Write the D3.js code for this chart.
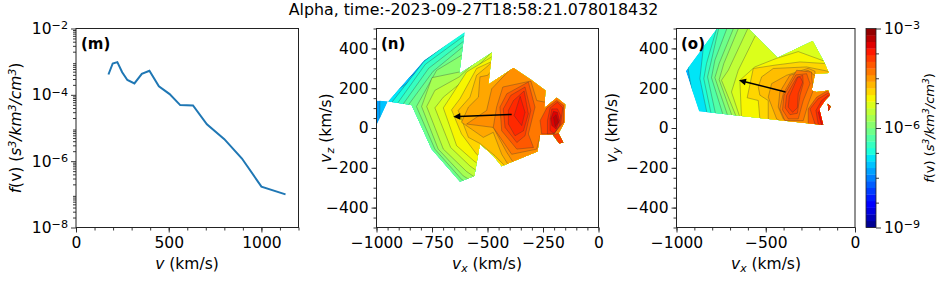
<!DOCTYPE html>
<html lang="en">
	<head>
		<meta charset="utf-8">
		<title>Alpha distribution</title>
		<script type="text/javascript" src="https://cdn.jsdelivr.net/npm/d3@7"></script>
		<style type="text/css">
			html, body { margin: 0; padding: 0; background: #fff; }
			svg { display: block; }
			text { font-family: "DejaVu Sans", sans-serif; fill: #000; }
		</style>
	</head>
	<body>
		<script type="text/javascript">

			//Panel (m): speed distribution
			var speeds = [175, 198, 223, 249, 277, 315, 355, 396, 447, 505, 562, 631, 706, 800, 895, 1000, 1130];
			var fv = [4.1e-4, 8.8e-4, 9.7e-4, 4.8e-4, 2.8e-4, 2.2e-4, 4.3e-4, 5.3e-4, 1.8e-4, 1.05e-4, 4.9e-5, 4.8e-5, 1.3e-5, 4.6e-6, 1.2e-6, 1.7e-7, 1.0e-7];

			//Panel (n): outline in km/s, contour levels (log10 f) and contour rings
			var nPiece = [[-1000, 138], [-950, 133], [-1000, 12]];
			var nOutline = [[-947, 133], [-786, 341], [-603, 481], [-627, 273], [-480, 380], [-496, 218], [-383, 302], [-304, 243], [-239, 189], [-244, 101], [-188, 152], [-150, 118], [-153, 29], [-180, -27], [-158, -73], [-177, -78], [-206, -34], [-263, -35], [-275, -118], [-436, -192], [-474, -140], [-534, -81], [-559, -241], [-624, -270], [-752, -106], [-842, 116]];
			var nBase = -7.4;
			var nLevels = [-7.2, -7.0, -6.8, -6.6, -6.4, -6.2, -6.0, -5.8, -5.6, -5.4, -5.2, -5.0, -4.85, -4.7, -4.55, -4.4, -4.2, -4.05, -3.9, -3.8, -4.1, -3.95, -3.8, -3.6, -3.45, -4.0];
			var nRings = [
				[[-985, 160], [-985, -20], [-100, -600], [-100, 800]],
				[[-948, 160], [-948, -20], [-100, -600], [-100, 800]],
				[[-603, 490], [-786, 335], [-930, 130], [-900, -100], [-100, -600], [-100, 800]],
				[[-603, 465], [-780, 320], [-905, 125], [-900, -100], [-100, -600], [-100, 800]],
				[[-603, 440], [-765, 300], [-880, 120], [-880, -100], [-100, -600], [-100, 800]],
				[[-603, 415], [-745, 285], [-855, 118], [-850, -100], [-700, -300], [-100, -600], [-100, 800]],
				[[-603, 375], [-729, 290], [-820, 108], [-737, -106], [-617, -258], [-560, -300], [-100, -600], [-100, 800]],
				[[-624, 282], [-750, 253], [-797, 108], [-722, -106], [-609, -241], [-550, -280], [-100, -600], [-100, 800]],
				[[-627, 257], [-737, 189], [-774, 108], [-699, -106], [-594, -219], [-540, -260], [-100, -600], [-100, 800]],
				[[-624, 223], [-699, 155], [-737, 101], [-666, -98], [-579, -191], [-530, -230], [-100, -600], [-100, 800]],
				[[-480, 358], [-594, 282], [-662, 164], [-699, 101], [-639, -89], [-561, -166], [-530, -190], [-100, -600], [-100, 800]],
				[[-483, 333], [-549, 299], [-624, 147], [-662, 91], [-617, -30], [-549, -132], [-520, -160], [-100, -600], [-100, 800]],
				[[-496, 314], [-549, 265], [-579, 155], [-632, 88], [-586, -47], [-534, -78], [-466, -140], [-413, -200], [-100, -600], [-100, 800]],
				[[-499, 265], [-534, 257], [-541, 155], [-586, 105], [-617, 29], [-519, -47], [-474, -22], [-436, -132], [-398, -200], [-100, -600], [-100, 800]],
				[[-376, 320], [-481, 197], [-504, 88], [-594, 20], [-474, 3], [-413, -123], [-368, -200], [-100, -600], [-100, 800]],
				[[-241, 130], [-278, 138], [-305, 236], [-431, 206], [-459, 105], [-474, 3], [-391, -132], [-278, -106], [-263, -39], [-200, -300], [-100, -600], [-100, 800]],
				[[-413, 172], [-316, 231], [-286, 105], [-316, -30], [-293, -98], [-368, -106], [-436, -14], [-444, 105]],
				[[-395, 164], [-331, 206], [-305, 88], [-331, -39], [-368, -73], [-421, 3], [-429, 96]],
				[[-383, 138], [-335, 186], [-316, 71], [-338, -14], [-376, -39], [-406, 20], [-406, 88]],
				[[-353, 159], [-331, 79], [-346, 12], [-380, 62]],
				[[-263, 37], [-233, 101], [-188, 138], [-158, 113], [-158, 29], [-203, -30], [-256, -30]],
				[[-230, 37], [-218, 101], [-185, 130], [-161, 101], [-170, 20], [-198, -27], [-230, -30]],
				[[-218, 46], [-210, 96], [-185, 96], [-170, 62], [-176, 12], [-200, -27], [-218, -14]],
				[[-215, 46], [-203, 84], [-185, 79], [-176, 37], [-191, -5], [-210, 12]],
				[[-203, 54], [-191, 67], [-180, 29], [-195, 7]],
				[[-180, -27], [-158, -73], [-177, -78], [-206, -34]]
			];
			var nArrow = [[-391, 68], [-654, 57]];

			//Panel (o)
			var oPiece = [[-153, 122], [-135, 108], [-148, 84]];
			var oOutline = [[-948, 287], [-772, 501], [-598, 501], [-434, 353], [-237, 437], [-174, 333], [-146, 277], [-224, 273], [-243, 189], [-215, 181], [-150, 189], [-140, 164], [-168, 138], [-200, 96], [-178, 15], [-873, 84]];
			var oBase = -7.3;
			var oLevels = [-7.0, -6.8, -6.6, -6.4, -6.2, -6.0, -5.8, -5.6, -5.4, -5.2, -5.0, -4.85, -4.7, -4.55, -4.4, -4.25, -4.1, -4.0, -4.2, -4.05, -3.9, -3.7, -3.9];
			var oRings = [
				[[-940, 330], [-930, 270], [-890, 62], [0, -200], [0, 800], [-1000, 800]],
				[[-850, 400], [-869, 248], [-826, 62], [0, -200], [0, 800], [-1000, 800]],
				[[-772, 509], [-832, 324], [-847, 248], [-804, 62], [0, -200], [0, 800], [-1000, 800]],
				[[-757, 527], [-804, 341], [-826, 257], [-779, 62], [0, -200], [0, 800], [-1000, 800]],
				[[-710, 518], [-785, 341], [-804, 253], [-738, 62], [0, -200], [0, 800], [-1000, 800]],
				[[-673, 518], [-761, 324], [-785, 253], [-710, 54], [0, -200], [0, 800], [-1000, 800]],
				[[-645, 518], [-735, 324], [-761, 243], [-686, 54], [0, -200], [0, 800], [-1000, 800]],
				[[-590, 520], [-710, 290], [-748, 240], [-664, 54], [0, -200], [0, 800], [-1000, 800]],
				[[-500, 520], [-561, 459], [-654, 290], [-692, 181], [-645, 54], [0, -200], [0, 800], [-1000, 800]],
				[[-178, 338], [-318, 384], [-440, 350], [-561, 307], [-645, 240], [-636, 54], [0, -200], [0, 800]],
				[[-168, 324], [-308, 332], [-448, 316], [-570, 299], [-604, 152], [-542, 138], [-533, 46], [0, -200], [0, 800]],
				[[-150, 285], [-271, 307], [-458, 299], [-523, 257], [-542, 206], [-533, 165], [-486, 138], [-486, 46], [0, -200], [0, 800]],
				[[-224, 262], [-224, 285], [-262, 300], [-383, 265], [-467, 223], [-486, 155], [-439, 46], [0, -200], [0, 262]],
				[[-224, 262], [-262, 290], [-365, 265], [-421, 181], [-430, 105], [-402, 46], [0, -200], [0, 262]],
				[[-243, 281], [-327, 290], [-402, 172], [-421, 96], [-393, 37], [-290, 37], [-262, 122], [-234, 189], [-243, 257]],
				[[-271, 273], [-331, 267], [-398, 164], [-406, 91], [-374, 46], [-318, 46], [-290, 138], [-252, 223]],
				[[-293, 265], [-327, 253], [-383, 164], [-391, 101], [-364, 67], [-323, 74], [-308, 164], [-290, 223]],
				[[-305, 253], [-320, 257], [-368, 159], [-374, 105], [-350, 79], [-323, 101], [-318, 172], [-293, 231]],
				[[-262, 10], [-262, 96], [-215, 155], [-150, 189], [-131, 164], [-168, -3]],
				[[-224, 20], [-252, 96], [-206, 147], [-150, 176], [-131, 160], [-168, -3]],
				[[-206, 20], [-219, 88], [-187, 138], [-150, 164], [-131, 138], [-168, -3]],
				[[-187, 12], [-206, 79], [-187, 96], [-174, 37]],
				[[-153, 122], [-135, 108], [-148, 84]]
			];
			var oArrow = [[-389, 181], [-650, 240]];

			//Colour bar and tick labels
			var barDecades = [-3, -6, -9];
			var barMinor = [-3.75, -4.5, -5.25, -6.75, -7.5, -8.25];
			var barBands = d3.range(30);
			var fTicks = [-2, -4, -6, -8];
			var fSubs = [2, 3, 4, 5, 6, 7, 8, 9];
			var mXTicks = [0, 500, 1000];
			var nXTicks = [-1000, -750, -500, -250, 0];
			var oXTicks = [-1000, -500, 0];
			var vYTicks = [-400, -200, 0, 200, 400];

			var w = 947;
			var h = 284;
			var plotTop = 28.5;
			var plotBottom = 227.5;

			//jet colour map, same breakpoints as matplotlib
			var jetR = d3.scaleLinear().domain([0, 0.35, 0.66, 0.89, 1]).range([0, 0, 1, 1, 0.5]);
			var jetG = d3.scaleLinear().domain([0, 0.125, 0.375, 0.64, 0.91, 1]).range([0, 0, 1, 1, 0, 0]);
			var jetB = d3.scaleLinear().domain([0, 0.11, 0.34, 0.65, 1]).range([0.5, 1, 1, 0, 0]);
			var toT = d3.scaleLinear().domain([-9, -3]).range([0, 1]);
			function jet(level) {
				var t = toT(level + 0.1);
				return "rgb(" + Math.round(jetR(t) * 255) + "," + Math.round(jetG(t) * 255) + "," + Math.round(jetB(t) * 255) + ")";
			}

			var svg = d3.select("body").append("svg").attr("width", w).attr("height", h);

			//10 with a superscript exponent as real text
			function powerLabel(sel, exponent) {
				sel.text("");
				sel.append("tspan").text("10");
				sel.append("tspan").attr("dy", "-0.42em").attr("font-size", "0.72em").text(String(exponent).replace("-", "\u2212"));
			}

			//label with italic parts and superscripts
			function fLabel(sel) {
				var parts = [["f", 1, 0], ["(v) (", 0, 0], ["s", 1, 0], ["3", 1, 1], ["/km", 1, 0], ["3", 1, 1], ["/cm", 1, 0], ["3", 1, 1], [")", 0, 0]];
				var up = false;
				parts.forEach(function(p) {
					var t = sel.append("tspan").text(p[0]).attr("font-style", p[1] ? "italic" : "normal");
					if (p[2]) { t.attr("font-size", "0.7em").attr("dy", "-0.5em"); up = true; }
					else if (up) { t.attr("dy", "0.35em"); up = false; }
				});
			}

			function axesFrame(g, x, y, xTicks, xMinor, yTicks, yMinor, fmtY) {
				var xAxis = d3.axisBottom(x).tickValues(xTicks).tickSize(5).tickPadding(4).tickFormat(function(d) { return String(d).replace("-", "\u2212"); });
				var xMin = d3.axisBottom(x).tickValues(xMinor).tickSize(3).tickFormat("");
				var yAxis = d3.axisLeft(y).tickValues(yTicks).tickSize(5).tickPadding(3);
				var yMin = d3.axisLeft(y).tickValues(yMinor).tickSize(3).tickFormat("");
				yAxis.tickFormat(function(d) { return String(d).replace("-", "\u2212"); });

				var xg = g.append("g").attr("transform", "translate(0," + plotBottom + ")");
				xg.append("g").call(xMin);
				xg.append("g").call(xAxis);
				var yg = g.append("g").attr("transform", "translate(" + x.range()[0] + ",0)");
				yg.append("g").call(yMin);
				var yMain = yg.append("g").call(yAxis);
				if (fmtY) { yMain.selectAll(".tick text").each(function(d) { powerLabel(d3.select(this), d3.format("d")(fmtY(d))); }); }

				g.selectAll(".domain").remove();
				g.selectAll(".tick line").attr("stroke", "#222").attr("stroke-width", 0.9);
				g.selectAll(".tick text").attr("font-size", 15.5).attr("font-family", "DejaVu Sans").attr("fill", "#000");

				g.append("rect")
					.attr("x", x.range()[0]).attr("y", plotTop)
					.attr("width", x.range()[1] - x.range()[0]).attr("height", plotBottom - plotTop)
					.attr("fill", "none").attr("stroke", "#222").attr("stroke-width", 1);
			}

			function panelLabel(x, s) {
				svg.append("text").attr("x", x).attr("y", 48.5).attr("font-size", 15).attr("font-weight", "bold").text(s);
			}

			function xTitle(cx, sub) {
				var t = svg.append("text").attr("x", cx).attr("y", 269).attr("text-anchor", "middle").attr("font-size", 15.5);
				t.append("tspan").attr("font-style", "italic").text("v");
				if (sub) {
					t.append("tspan").attr("font-style", "italic").attr("font-size", "0.7em").attr("dy", "0.25em").text(sub);
					t.append("tspan").attr("dy", "-0.18em").text(" (km/s)");
				} else {
					t.append("tspan").text(" (km/s)");
				}
			}

			function yTitle(px, sub) {
				var t = svg.append("text").attr("transform", "translate(" + px + "," + ((plotTop + plotBottom) / 2) + ") rotate(-90)")
					.attr("text-anchor", "middle").attr("font-size", 15.5);
				t.append("tspan").attr("font-style", "italic").text("v");
				t.append("tspan").attr("font-style", "italic").attr("font-size", "0.7em").attr("dy", "0.25em").text(sub);
				t.append("tspan").attr("dy", "-0.18em").text(" (km/s)");
			}

			//Title
			svg.append("text").attr("x", 473.5).attr("y", 15).attr("text-anchor", "middle").attr("font-size", 15.8)
				.text("Alpha, time:-2023-09-27T18:58:21.078018432");

			//Panel (m)
			var mx = d3.scaleLinear().domain([0, 1200]).range([76, 298.5]);
			var my = d3.scaleLog().domain([1e-8, 1e-2]).range([plotBottom, plotTop]);
			var line = d3.line().x(function(d) { return mx(d[0]); }).y(function(d) { return my(d[1]); });
			svg.append("path").datum(d3.zip(speeds, fv)).attr("d", line)
				.attr("fill", "none").attr("stroke", "#1f77b4").attr("stroke-width", 2);
			var fMinor = [];
			d3.range(-8, -2).forEach(function(e) {
				fSubs.forEach(function(s) { fMinor.push(s * Math.pow(10, e)); });
			});
			axesFrame(svg.append("g"), mx, my,
				mXTicks, d3.range(0, 1201, 100),
				fTicks.map(function(e) { return Math.pow(10, e); }), fMinor,
				function(d) { return Math.round(Math.log10(d)); });
			panelLabel(81, "(m)");
			xTitle(187, null);
			var mLab = svg.append("text").attr("transform", "translate(21," + ((plotTop + plotBottom) / 2) + ") rotate(-90)")
				.attr("text-anchor", "middle").attr("font-size", 15.5);
			fLabel(mLab);

			//Contour panels
			function contourPanel(id, x, y, outline, piece, baseLevel, levels, rings, arrow) {
				var g = svg.append("g");
				var toPts = function(p) { return p.map(function(d) { return x(d[0]) + "," + y(d[1]); }).join(" "); };
				var box = svg.append("clipPath").attr("id", "box-" + id);
				box.append("rect").attr("x", x.range()[0]).attr("y", plotTop).attr("width", x.range()[1] - x.range()[0]).attr("height", plotBottom - plotTop);
				var clip = svg.append("clipPath").attr("id", "clip-" + id).attr("clip-path", "url(#box-" + id + ")");
				clip.append("polygon").attr("points", toPts(outline));
				clip.append("polygon").attr("points", toPts(piece));

				var inner = g.append("g").attr("clip-path", "url(#clip-" + id + ")");
				inner.append("polygon").attr("points", toPts(outline)).attr("fill", jet(baseLevel));
				inner.append("polygon").attr("points", toPts(piece)).attr("fill", jet(baseLevel));
				inner.selectAll("polygon.band")
					.data(rings)
					.enter()
					.append("polygon")
					.attr("class", "band")
					.attr("points", toPts)
					.attr("fill", function(d, i) { return jet(levels[i]); })
					.attr("stroke", "#333")
					.attr("stroke-opacity", 0.55)
					.attr("stroke-width", 0.6);

				//Mean velocity arrow
				var ax = x(arrow[0][0]), ay = y(arrow[0][1]), bx = x(arrow[1][0]), by = y(arrow[1][1]);
				var ang = Math.atan2(by - ay, bx - ax) * 180 / Math.PI;
				var len = Math.hypot(bx - ax, by - ay);
				var arr = g.append("g").attr("transform", "translate(" + ax + "," + ay + ") rotate(" + ang + ")");
				arr.append("line").attr("x2", len - 5).attr("stroke", "#000").attr("stroke-width", 1.5);
				arr.append("path").attr("d", "M" + len + ",0L" + (len - 7) + ",-3.4L" + (len - 7) + ",3.4Z").attr("fill", "#000");
			}

			var nx = d3.scaleLinear().domain([-1000, 0]).range([376.5, 598.5]);
			var ny = d3.scaleLinear().domain([-500, 500]).range([plotBottom, plotTop]);
			contourPanel("n", nx, ny, nOutline, nPiece, nBase, nLevels, nRings, nArrow);
			axesFrame(svg.append("g"), nx, ny, nXTicks, d3.range(-1000, 1, 50), vYTicks, d3.range(-500, 501, 50));
			panelLabel(381, "(n)");
			xTitle(487, "x");
			yTitle(331, "z");

			var ox = d3.scaleLinear().domain([-1000, 0]).range([676.5, 855]);
			contourPanel("o", ox, ny, oOutline, oPiece, oBase, oLevels, oRings, oArrow);
			axesFrame(svg.append("g"), ox, ny, oXTicks, d3.range(-1000, 1, 100), vYTicks, d3.range(-500, 501, 50));
			panelLabel(681, "(o)");
			xTitle(766, "x");
			yTitle(617, "y");

			//Colour bar
			var cb = d3.scaleLinear().domain([-9, -3]).range([plotBottom, plotTop]);
			var bar = svg.append("g");
			bar.selectAll("rect")
				.data(barBands)
				.enter()
				.append("rect")
				.attr("x", 866)
				.attr("width", 10)
				.attr("y", function(d) { return cb(-9 + (d + 1) * 0.2); })
				.attr("height", function(d) { return cb(-9 + d * 0.2) - cb(-9 + (d + 1) * 0.2) + 0.3; })
				.attr("fill", function(d) { return jet(-9 + d * 0.2); });
			bar.append("rect").attr("x", 866).attr("y", plotTop).attr("width", 10).attr("height", plotBottom - plotTop)
				.attr("fill", "none").attr("stroke", "#222").attr("stroke-width", 0.8);
			var cbAxis = d3.axisRight(cb).tickValues(barDecades).tickSize(5).tickPadding(3);
			var cbMin = d3.axisRight(cb).tickValues(barMinor).tickSize(3).tickFormat("");
			var cbg = svg.append("g").attr("transform", "translate(876,0)");
			cbg.append("g").call(cbMin);
			var cbm = cbg.append("g").call(cbAxis);
			cbg.selectAll(".domain").remove();
			cbg.selectAll(".tick line").attr("stroke", "#222").attr("stroke-width", 0.9);
			cbm.selectAll(".tick text").attr("font-size", 15.5).attr("font-family", "DejaVu Sans").attr("fill", "#000")
				.each(function(d) { powerLabel(d3.select(this), d); });
			var cbLab = svg.append("text").attr("transform", "translate(934," + ((plotTop + plotBottom) / 2) + ") rotate(-90)")
				.attr("text-anchor", "middle").attr("font-size", 13);
			fLabel(cbLab);

		</script>
	</body>
</html>
